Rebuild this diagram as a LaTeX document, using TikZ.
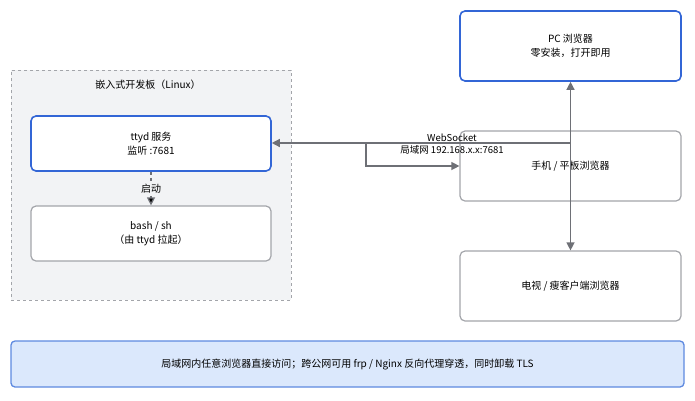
\documentclass[tikz,border=0pt]{standalone}
\usepackage{fontspec}
\setmainfont{Noto Sans CJK SC}
\usetikzlibrary{arrows.meta}

\definecolor{boxblue}{HTML}{3366D6}
\definecolor{boxgray}{HTML}{A3A5AA}
\definecolor{boardbg}{HTML}{F2F3F5}
\definecolor{noteblue}{HTML}{DBE8FC}
\definecolor{notedraw}{HTML}{5E8AE0}
\definecolor{linkgray}{HTML}{6E7076}

\begin{document}
\begin{tikzpicture}[x=1pt,y=-1pt,>={Triangle[length=8pt,width=8pt]},
    every node/.style={font=\fontsize{10}{14.5}\selectfont,align=center,inner sep=0pt},
    mainbox/.style={draw=boxblue,line width=1.6pt,fill=white,rounded corners=5pt},
    subbox/.style={draw=boxgray,line width=1.2pt,fill=white,rounded corners=5pt},
    link/.style={draw=linkgray,line width=1.3pt}]
    \useasboundingbox (0,0) rectangle (695,400);
    % embedded board
    \node[draw=boxgray,dashed,line width=1pt,fill=boardbg,minimum width=280pt,minimum height=230pt] (board) at (151,185) {};
    \node (boardlabel) at (148,85) {嵌入式开发板（Linux）};
    \node[mainbox,minimum width=240pt,minimum height=55pt] (ttyd) at (151,143.5) {ttyd 服务\\监听 :7681};
    \node[subbox,minimum width=240pt,minimum height=55pt] (shell) at (151,233.5) {bash / sh\\（由 ttyd 拉起）};
    % browsers
    \node[mainbox,minimum width=221pt,minimum height=70pt] (pc) at (570.5,46) {PC 浏览器\\零安装，打开即用};
    \node[subbox,minimum width=221pt,minimum height=70pt] (phone) at (570.5,166) {手机 / 平板浏览器};
    \node[subbox,minimum width=221pt,minimum height=70pt] (tv) at (570.5,286) {电视 / 瘦客户端浏览器};
    % note
    \node[draw=notedraw,line width=1.3pt,fill=noteblue,rounded corners=4pt,minimum width=673pt,minimum height=46pt] (note) at (347.5,364) {局域网内任意浏览器直接访问；跨公网可用 frp / Nginx 反向代理穿透，同时卸载 TLS};

    \coordinate (hub) at (570.5,143);
    \coordinate (split) at (366,143);
    \path[link,dashed,dash pattern=on 3pt off 3pt,->] (ttyd) edge node[fill=boardbg,inner sep=1.5pt] {启动} (shell);
    \draw[link,->] (hub) -- (ttyd.east |- hub);
    \draw[link,->] (hub) -- (pc.south);
    \draw[link,->] (hub) -- (tv.north);
    \draw[link,->] (split) |- (phone.west);
    \node[font=\fontsize{9.5}{12}\selectfont] (wslabel) at (452,144) {WebSocket\\局域网 192.168.x.x:7681};
\end{tikzpicture}
\end{document}
